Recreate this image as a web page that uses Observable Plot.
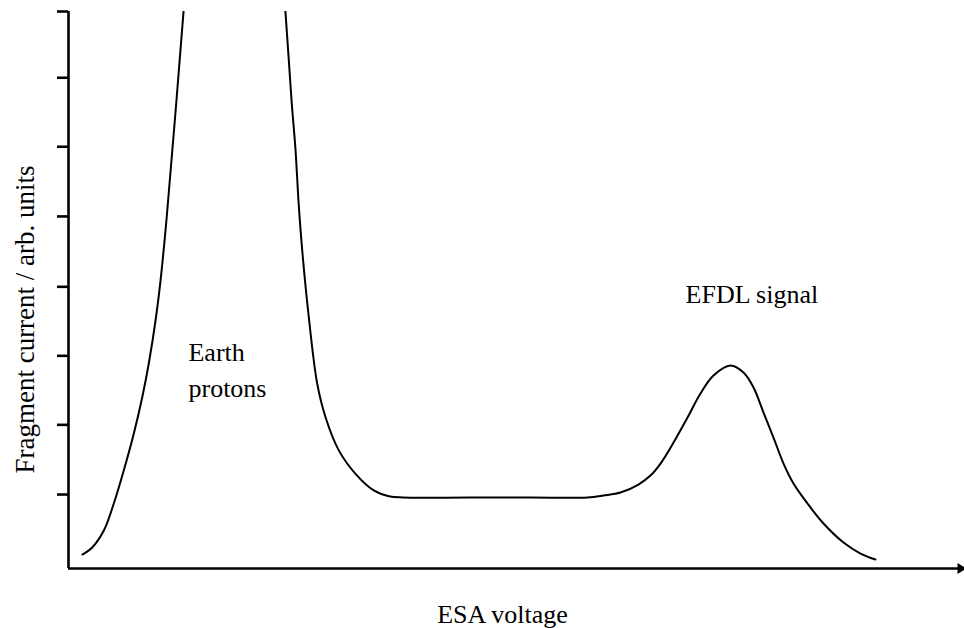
<!DOCTYPE html>
<html>
<head>
<meta charset="utf-8">
<script src="https://cdn.jsdelivr.net/npm/d3@7"></script>
<script src="https://cdn.jsdelivr.net/npm/@observablehq/plot@0.6"></script>
<style>
  html, body { margin: 0; padding: 0; background: #fff; }
  #chart svg { display: block; }
</style>
</head>
<body>
<div id="chart"></div>
<script>
// ESA voltage (arbitrary units, 0–100 along the axis)
const voltage = [1.57, 2.66, 3.97, 5.09, 6.21, 7.34, 8.28, 9.02, 9.78, 10.34, 10.90, 11.38, 12.13, 12.92, 13.42,
  18.65,
  23.88, 24.38, 25.06, 25.51, 25.84, 26.26, 27.0, 27.94, 28.88, 30.37, 32.25, 34.30, 36.0, 37.6,
  45.0, 52.0, 58.31, 60.11, 62.02, 64.04, 65.39, 66.52, 67.98, 69.55, 71.01, 72.47, 74.38,
  75.84, 76.97, 78.09, 79.21, 80.34, 81.46, 83.03, 84.83, 87.08, 88.99, 90.67];
// Fragment current (arbitrary units)
const current = [0.130, 0.232, 0.478, 0.870, 1.348, 1.884, 2.406, 2.899, 3.522, 4.101, 4.826, 5.551, 6.71, 7.99, 8.74,
  10.8,
  8.74, 7.99, 6.71, 5.99, 5.26, 4.54, 3.57, 2.61, 2.12, 1.64, 1.30, 1.06, 0.975, 0.957,
  0.957, 0.957, 0.957, 0.986, 1.029, 1.145, 1.275, 1.449, 1.754, 2.116, 2.464, 2.725, 2.870,
  2.768, 2.551, 2.188, 1.826, 1.449, 1.159, 0.870, 0.580, 0.304, 0.145, 0.058];
// y tick positions (unlabelled)
const yTicks = [1, 2.01, 3.01, 4.01, 5.03, 6.04, 7.04, 8];
const xTitle = "ESA voltage";
const yTitle = "Fragment current / arb. units";
const peakLabels = ["Earth\nprotons", "EFDL signal"];

const data = voltage.map((v, i) => ({v, c: current[i]}));

const xMin = 0, xMax = 100, yMin = -0.072, yMax = 8;
const font = "'Liberation Serif', 'Times New Roman', serif";

const arrowHead = {
  draw(context) {
    context.moveTo(-1, -5.5);
    context.lineTo(8, 0);
    context.lineTo(-1, 5.5);
    context.closePath();
  }
};

const chart = Plot.plot({
  width: 964,
  height: 628,
  marginLeft: 68,
  marginRight: 6,
  marginTop: 11,
  marginBottom: 60,
  style: {fontFamily: font, fontSize: "26px", color: "black", background: "white"},
  x: {domain: [xMin, xMax], axis: null},
  y: {domain: [yMin, yMax], axis: null},
  marks: [
    Plot.axisY({ticks: yTicks, tickSize: 11, tickFormat: () => "", strokeWidth: 2.6, label: null}),
    Plot.ruleX([xMin], {stroke: "black", strokeWidth: 2.6}),
    Plot.ruleY([yMin], {stroke: "black", strokeWidth: 2.6}),
    Plot.dot([{v: xMax, c: yMin}], {x: "v", y: "c", symbol: arrowHead, fill: "black", stroke: "none"}),
    Plot.line(data, {x: "v", y: "c", curve: "catmull-rom", stroke: "black", strokeWidth: 2, clip: true}),
    Plot.text([peakLabels[0]], {x: 13.48, y: 3.31, text: d => d, textAnchor: "start", lineAnchor: "top",
      lineHeight: 1.385, fontSize: 26, fontFamily: font, fill: "black"}),
    Plot.text([peakLabels[1]], {x: 69.33, y: 3.90, text: d => d, textAnchor: "start", lineAnchor: "middle",
      fontSize: 26, fontFamily: font, fill: "black"}),
    Plot.text([xTitle], {frameAnchor: "bottom", text: d => d, dx: -11, dy: 45.7, lineAnchor: "middle",
      fontSize: 26, fontFamily: font, fill: "black"}),
    Plot.text([yTitle], {frameAnchor: "left", text: d => d, rotate: -90, dx: -43, dy: 29.5, lineAnchor: "middle",
      textAnchor: "middle", fontSize: 27, fontFamily: font, fill: "black"})
  ]
});
document.getElementById("chart").appendChild(chart);
</script>
</body>
</html>
